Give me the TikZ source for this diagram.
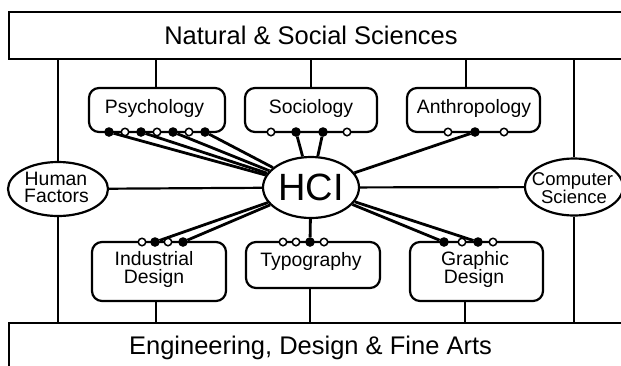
\documentclass[tikz,border=0pt]{standalone}
\usepackage{fontspec}
\setmainfont{Liberation Sans}
\usetikzlibrary{shapes.geometric}
\begin{document}
\begin{tikzpicture}[x=1pt,y=-1pt,
  band/.style={draw, line width=2.2pt, inner sep=0pt, outer sep=0pt, anchor=north west, minimum width=640pt},
  field/.style={draw, line width=2.2pt, rounded corners=10pt, inner sep=0pt},
  oval/.style={draw, ellipse, line width=2.2pt, fill=white, inner sep=0pt},
  link/.style={line width=2.8pt},
  tie/.style={line width=2.2pt},
  fdot/.style={circle, draw, fill=black, line width=1.5pt, minimum size=8pt, inner sep=0pt},
  odot/.style={circle, draw, fill=white, line width=1.5pt, minimum size=7.5pt, inner sep=0pt},
  lbl/.style={font=\fontsize{19.4}{17.5}\selectfont, inner sep=0pt, anchor=base},
  big/.style={font=\fontsize{25.5}{28}\selectfont, inner sep=0pt, anchor=base},
  cslbl/.style={font=\fontsize{18.5}{17}\selectfont, inner sep=0pt, anchor=base}
]
\useasboundingbox (0,0) rectangle (621,365);
\clip (0,0) rectangle (621,365);

% outer bands
\node[band, minimum height=47pt] (nss) at (9,12) {};
\node[big] (nsst) at (311,44.3) {Natural \& Social Sciences};
\node[band, minimum height=60pt] (eng) at (9,323) {};
\node[big] (engt) at (310.5,354) {Engineering, Design \& Fine Arts};

% upper boxes
\node[field, minimum width=136pt, minimum height=44pt] (psy) at (157,110) {};
\node[lbl] (psyt) at (154.5,113) {Psychology};
\node[field, minimum width=132pt, minimum height=44pt] (soc) at (311,110) {};
\node[lbl] (soct) at (311,113) {Sociology};
\node[field, minimum width=133pt, minimum height=44pt] (ant) at (473.5,110) {};
\node[lbl] (antt) at (474,113) {Anthropology};

% lower boxes
\node[field, minimum width=134pt, minimum height=59pt] (ind) at (159,271.5) {};
\node[lbl] (indt1) at (154,265.5) {Industrial};
\node[lbl] (indt2) at (154,283) {Design};
\node[field, minimum width=134pt, minimum height=46pt] (typ) at (313,265) {};
\node[lbl] (typt) at (311,266.5) {Typography};
\node[field, minimum width=133pt, minimum height=59pt] (gra) at (476.5,271.5) {};
\node[lbl] (grat1) at (475,265.5) {Graphic};
\node[lbl] (grat2) at (474,283) {Design};

% ellipses
\node[oval, minimum width=100pt, minimum height=54pt] (hf) at (58,189) {};
\node[lbl] (hft1) at (56,185) {Human};
\node[lbl] (hft2) at (56.5,202.7) {Factors};
\node[oval, minimum width=98pt, minimum height=57pt] (cs) at (574,187) {};
\node[cslbl] (cst1) at (572.5,185) {Computer};
\node[cslbl] (cst2) at (574,203.5) {Science};
\node[oval, minimum width=96pt, minimum height=61pt, font=\fontsize{38}{40}\selectfont] (hci) at (311,187.5) {HCI};

% tree lines
\coordinate (tL) at (58,59);
\coordinate (bL) at (58,323);
\coordinate (tR) at (574,59);
\coordinate (bR) at (574,323);
\coordinate (a1) at (156,59);
\coordinate (a2) at (311,59);
\coordinate (a3) at (466,59);
\coordinate (b1) at (155.6,323);
\coordinate (b2) at (310,323);
\coordinate (b3) at (465,323);
\draw[tie] (tL) -- (hf);
\draw[tie] (hf) -- (bL);
\draw[tie] (tR) -- (cs);
\draw[tie] (cs) -- (bR);
\draw[tie] (a1) -- (a1 |- psy.north);
\draw[tie] (a2) -- (a2 |- soc.north);
\draw[tie] (a3) -- (a3 |- ant.north);
\draw[tie] (b1) -- (b1 |- ind.south);
\draw[tie] (b2) -- (b2 |- typ.south);
\draw[tie] (b3) -- (b3 |- gra.south);
\draw[tie] (hf) -- (hci);
\draw[tie] (hci) -- (cs);

% dots
\node[fdot] (p1) at (109,132) {};
\node[odot] (p2) at (125,132) {};
\node[fdot] (p3) at (141,132) {};
\node[odot] (p4) at (157,132) {};
\node[fdot] (p5) at (173,132) {};
\node[odot] (p6) at (189,132) {};
\node[fdot] (p7) at (205,132) {};
\node[odot] (s1) at (271,132) {};
\node[fdot] (s2) at (296,132) {};
\node[fdot] (s3) at (323,132) {};
\node[odot] (s4) at (347,132) {};
\node[odot] (n1) at (448,132) {};
\node[fdot] (n2) at (475,132) {};
\node[odot] (n3) at (504,132) {};
\node[odot] (i1) at (142,242) {};
\node[fdot] (i2) at (155,242) {};
\node[odot] (i3) at (168,242) {};
\node[fdot] (i4) at (183,242) {};
\node[odot] (y1) at (283,242) {};
\node[odot] (y2) at (296,242) {};
\node[fdot] (y3) at (310,242) {};
\node[odot] (y4) at (324,242) {};
\node[fdot] (g1) at (444,242) {};
\node[odot] (g2) at (462,242) {};
\node[fdot] (g3) at (478,242) {};
\node[odot] (g4) at (493,242) {};

% connectors to HCI
\foreach \d in {p1,p3,p5,p7,s2,s3,n2,i2,i4,y3,g1,g3}
  \draw[link] (\d) -- (hci);
\end{tikzpicture}
\end{document}
